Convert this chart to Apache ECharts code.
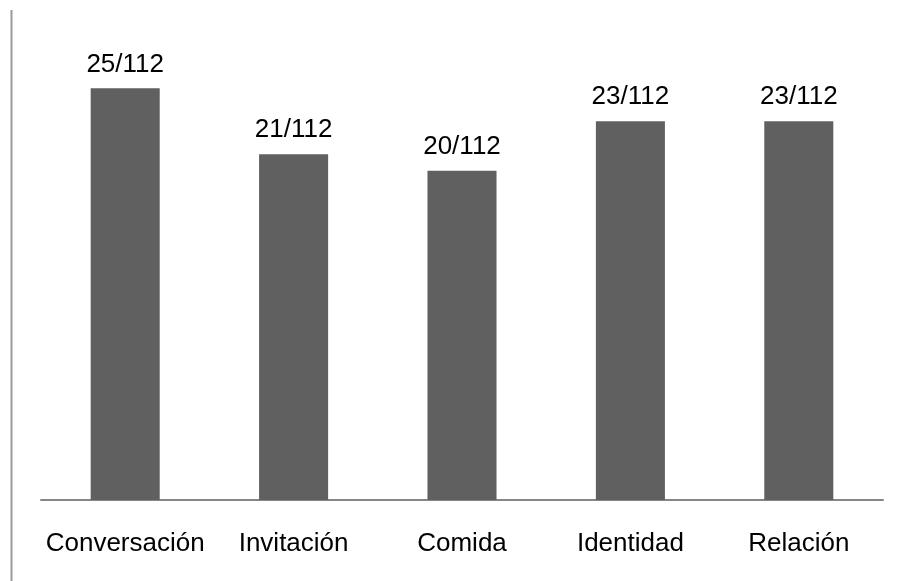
<!DOCTYPE html>
<html>
<head>
<meta charset="utf-8">
<script src="https://cdn.jsdelivr.net/npm/echarts@6/dist/echarts.min.js"></script>
<style>
  html, body { margin: 0; padding: 0; background: #fff; }
  #chart { width: 897px; height: 581px; }
</style>
</head>
<body>
<div id="chart"></div>
<script>
// Categories and counts (out of 112)
const categories = ['Conversación', 'Invitación', 'Comida', 'Identidad', 'Relación'];
const counts = [25, 21, 20, 23, 23];
const total = 112;

const chart = echarts.init(document.getElementById('chart'));
chart.setOption({
  animation: false,
  backgroundColor: '#ffffff',
  graphic: [{
    type: 'line',
    shape: { x1: 11.5, y1: 10, x2: 11.5, y2: 581 },
    style: { stroke: '#9a9a9a', lineWidth: 2 }
  }],
  grid: { left: 41, right: 14, top: 6, bottom: 81 },
  xAxis: {
    type: 'category',
    data: categories,
    axisLine: { lineStyle: { color: '#868686', width: 2 } },
    axisTick: { show: false },
    axisLabel: {
      color: '#000',
      fontFamily: 'Liberation Sans, Arial, sans-serif',
      fontSize: 26,
      margin: 31,
      interval: 0
    }
  },
  yAxis: {
    type: 'value',
    min: 0,
    max: 30,
    show: false,
    splitLine: { show: false }
  },
  series: [{
    type: 'bar',
    data: counts,
    barWidth: '41%',
    itemStyle: { color: '#606060' },
    label: {
      show: true,
      position: 'top',
      distance: 11,
      color: '#000',
      fontFamily: 'Liberation Sans, Arial, sans-serif',
      fontSize: 26,
      formatter: p => p.value + '/' + total
    }
  }]
});
</script>
</body>
</html>
